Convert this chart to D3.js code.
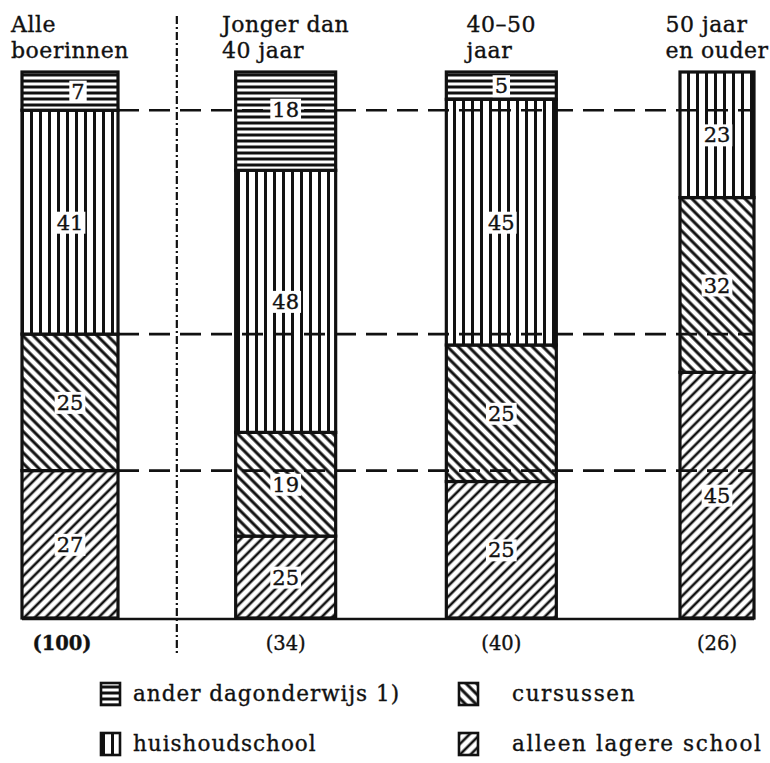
<!DOCTYPE html>
<html lang="nl">
<head>
    <meta charset="UTF-8">
    <title>Opleiding boerinnen naar leeftijd</title>
    <script src="https://d3js.org/d3.v7.min.js"></script>
    <style>
        body { margin: 0; background: #fff; }
        svg { display: block; }
        text { font-family: "DejaVu Serif", "Liberation Serif", serif; fill: #111; stroke: #111; stroke-width: 0.35px; }
        .head { font-size: 22px; letter-spacing: 0.5px; }
        .num { font-size: 21px; }
        .count { font-size: 19.5px; }
        .legend text { font-size: 21.5px; letter-spacing: 1px; }
        .legend text.wide { letter-spacing: 1.6px; }
    </style>
</head>
<body>
<div id="chart"></div>
<script>
    // groups (column headers are split over two lines)
    var categories = ["Alle boerinnen", "Jonger dan 40 jaar", "40–50 jaar", "50 jaar en ouder"];
    var headerLines = [["Alle", "boerinnen"], ["Jonger dan", "40 jaar"], ["40–50", "jaar"], ["50 jaar", "en ouder"]];
    var counts = ["(100)", "(34)", "(40)", "(26)"];

    // percentages per group, bottom to top
    var alleenLagere = [27, 15, 25, 45];      // drawn height of the 2nd bar is 15
    var alleenPrinted = [27, 25, 25, 45];     // number printed in the segment
    var cursussen = [25, 19, 25, 32];
    var huishoudschool = [41, 48, 45, 23];
    var anderDagonderwijs = [7, 18, 5, 0];

    var keys = ["alleen", "cursus", "huis", "ander"];
    var legendLabels = {
        ander: "ander dagonderwijs 1)",
        huis: "huishoudschool",
        cursus: "cursussen",
        alleen: "alleen lagere school"
    };

    var table = categories.map(function(c, i) {
        return {
            cat: c,
            alleen: alleenLagere[i],
            cursus: cursussen[i],
            huis: huishoudschool[i],
            ander: anderDagonderwijs[i],
            printed: { alleen: alleenPrinted[i], cursus: cursussen[i], huis: huishoudschool[i], ander: anderDagonderwijs[i] }
        };
    });

    var W = 770, H = 763;
    var svg = d3.select("#chart").append("svg").attr("width", W).attr("height", H);

    // hatch patterns
    var defs = svg.append("defs");
    function hatch(id, size, angle, sw) {
        var p = defs.append("pattern")
            .attr("id", id)
            .attr("patternUnits", "userSpaceOnUse")
            .attr("width", size).attr("height", size)
            .attr("patternTransform", "rotate(" + angle + ")");
        p.append("rect").attr("width", size).attr("height", size).attr("fill", "#fff");
        p.append("line")
            .attr("x1", size / 2).attr("x2", size / 2)
            .attr("y1", 0).attr("y2", size)
            .attr("stroke", "#111").attr("stroke-width", sw);
    }
    hatch("p-ander", 6, 90, 3);
    hatch("p-huis", 9, 0, 3);
    hatch("p-cursus", 7.5, -45, 3);
    hatch("p-alleen", 7.5, 45, 2.6);

    var y = d3.scaleLinear().domain([0, 100]).range([618, 72]);
    var x = d3.scalePoint().domain(categories).range([70, 717]);
    var barWidth = { "Alle boerinnen": 96, "Jonger dan 40 jaar": 100, "40–50 jaar": 110, "50 jaar en ouder": 74 };

    var stack = d3.stack().keys(keys);
    var series = stack(table);

    // bars
    var bars = svg.append("g");
    series.forEach(function(s) {
        bars.selectAll(null)
            .data(s.filter(function(d) { return d[1] > d[0]; }))
            .enter().append("rect")
            .attr("x", function(d) { return x(d.data.cat) - barWidth[d.data.cat] / 2; })
            .attr("y", function(d) { return y(d[1]); })
            .attr("width", function(d) { return barWidth[d.data.cat]; })
            .attr("height", function(d) { return y(d[0]) - y(d[1]); })
            .attr("fill", "url(#p-" + s.key + ")")
            .attr("stroke", "#111")
            .attr("stroke-width", 3.2);
    });

    // baseline
    svg.append("line")
        .attr("x1", x(categories[0]) - barWidth[categories[0]] / 2)
        .attr("x2", x(categories[3]) + barWidth[categories[3]] / 2)
        .attr("y1", y(0) + 1).attr("y2", y(0) + 1)
        .attr("stroke", "#111").attr("stroke-width", 2.5);

    // dashed reference lines at the boundaries of the "Alle boerinnen" bar
    var allRef = series.slice(0, 3).map(function(s) { return s[0][1]; });
    svg.append("g").selectAll("line")
        .data(allRef)
        .enter().append("line")
        .attr("x1", x(categories[0]) + barWidth[categories[0]] / 2)
        .attr("x2", x(categories[3]) + barWidth[categories[3]] / 2)
        .attr("y1", function(d) { return y(d); })
        .attr("y2", function(d) { return y(d); })
        .attr("stroke", "#111")
        .attr("stroke-width", 2.6)
        .attr("stroke-dasharray", "21,10");

    // vertical separator
    var sepX = (x(categories[0]) + barWidth[categories[0]] / 2 + x(categories[1]) - barWidth[categories[1]] / 2) / 2;
    svg.append("line")
        .attr("x1", sepX).attr("x2", sepX)
        .attr("y1", 16).attr("y2", 656)
        .attr("stroke", "#111").attr("stroke-width", 2.2)
        .attr("stroke-dasharray", "8,3,2,3");

    // numbers inside the segments, on a white box
    var labels = svg.append("g");
    series.forEach(function(s) {
        s.forEach(function(d) {
            if (d[1] <= d[0]) return;
            var cx = x(d.data.cat), cy = (y(d[0]) + y(d[1])) / 2;
            if (s.key === "ander" && d.data.cat === "Alle boerinnen") cx += 8;
            if (s.key === "ander" && d.data.cat === "Jonger dan 40 jaar") cy -= 12;
            var g = labels.append("g");
            var t = g.append("text")
                .attr("class", "num")
                .attr("x", cx).attr("y", cy)
                .attr("text-anchor", "middle")
                .attr("dy", "0.36em")
                .text(d.data.printed[s.key]);
            var b = t.node().getBBox();
            g.insert("rect", "text")
                .attr("x", b.x - 2).attr("y", b.y + 1)
                .attr("width", b.width + 4).attr("height", b.height - 2)
                .attr("fill", "#fff");
        });
    });

    // column headers: block left-aligned, centred on the bar
    categories.forEach(function(c, i) {
        var g = svg.append("g");
        var ts = headerLines[i].map(function(line, j) {
            return g.append("text").attr("class", "head")
                .attr("y", 32 + j * 26)
                .text(line);
        });
        var maxW = d3.max(ts, function(t) { return t.node().getComputedTextLength(); });
        ts.forEach(function(t) { t.attr("x", x(c) - maxW / 2); });
    });

    // counts below the bars
    svg.append("g").selectAll("text")
        .data(categories)
        .enter().append("text")
        .attr("class", "count")
        .attr("x", function(d, i) { return x(d) - (i === 0 ? 8 : 0); })
        .attr("y", 650)
        .attr("text-anchor", "middle")
        .style("font-weight", function(d, i) { return i === 0 ? "bold" : "normal"; })
        .text(function(d, i) { return counts[i]; });

    // legend
    var legendItems = [
        { key: "ander", x: 101, y: 683, gap: 32, cls: "" },
        { key: "cursus", x: 459, y: 683, gap: 53, cls: "wide" },
        { key: "huis", x: 101, y: 733, gap: 32, cls: "" },
        { key: "alleen", x: 459, y: 733, gap: 53, cls: "wide" }
    ];
    var lg = svg.append("g").attr("class", "legend");
    legendItems.forEach(function(it) {
        lg.append("rect")
            .attr("x", it.x).attr("y", it.y)
            .attr("width", 19).attr("height", 22)
            .attr("fill", "url(#p-" + it.key + ")")
            .attr("stroke", "#111").attr("stroke-width", 2.6);
        lg.append("text")
            .attr("class", it.cls)
            .attr("x", it.x + it.gap).attr("y", it.y + 18)
            .text(legendLabels[it.key]);
    });
</script>
</body>
</html>
